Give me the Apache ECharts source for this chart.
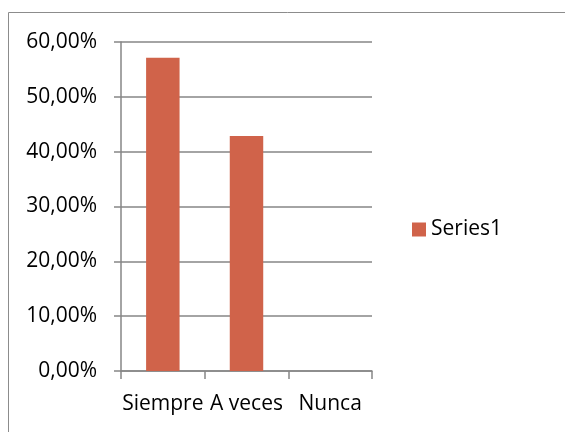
<!DOCTYPE html>
<html>
<head>
<meta charset="utf-8">
<script src="https://cdn.jsdelivr.net/npm/echarts@6/dist/echarts.min.js"></script>
<style>
  html, body { margin: 0; padding: 0; background: #fff; }
  #chart { width: 565px; height: 432px; }
</style>
</head>
<body>
<div id="chart"></div>
<script>
// datos del gráfico
const categories = ['Siempre', 'A veces', 'Nunca']
const seriesName = 'Series1'
const seriesValues = [57.14, 42.86, 0]
const yTicks = [0, 10, 20, 30, 40, 50, 60]

const fontFamily = '"Open Sans", "Noto Sans", sans-serif'
const gray = '#868686'
const barColor = '#D0634A'

const chart = echarts.init(document.getElementById('chart'))

chart.setOption({
  animation: false,
  textStyle: { fontFamily: fontFamily },
  graphic: [{
    type: 'rect',
    shape: { x: 8.5, y: 12.5, width: 600, height: 500 },
    style: { fill: 'none', stroke: '#8c8c8c', lineWidth: 1 },
    silent: true
  }],
  grid: { left: 121, top: 42, width: 251, height: 329 },
  legend: {
    data: [seriesName],
    orient: 'vertical',
    left: 407,
    top: 214,
    itemWidth: 14,
    itemHeight: 14,
    itemGap: 6,
    icon: 'rect',
    textStyle: { fontSize: 21, color: '#000', fontFamily: fontFamily }
  },
  xAxis: {
    type: 'category',
    data: categories,
    axisLine: { lineStyle: { color: gray, width: 1.5 } },
    axisTick: { show: true, length: 8, lineStyle: { color: gray, width: 1.5 } },
    axisLabel: { color: '#000', fontSize: 21, margin: 23, interval: 0 }
  },
  yAxis: {
    type: 'value',
    min: yTicks[0],
    max: yTicks[yTicks.length - 1],
    interval: 10,
    axisLine: { show: true, lineStyle: { color: gray, width: 1.5 } },
    axisTick: { show: true, length: 7, lineStyle: { color: gray, width: 1.5 } },
    splitLine: { lineStyle: { color: gray, width: 1.5 } },
    axisLabel: {
      color: '#000',
      fontSize: 21,
      margin: 24,
      formatter: v => v.toFixed(2).replace('.', ',') + '%'
    }
  },
  series: [{
    name: seriesName,
    type: 'bar',
    data: seriesValues,
    barWidth: '40%',
    itemStyle: { color: barColor }
  }]
})
</script>
</body>
</html>
